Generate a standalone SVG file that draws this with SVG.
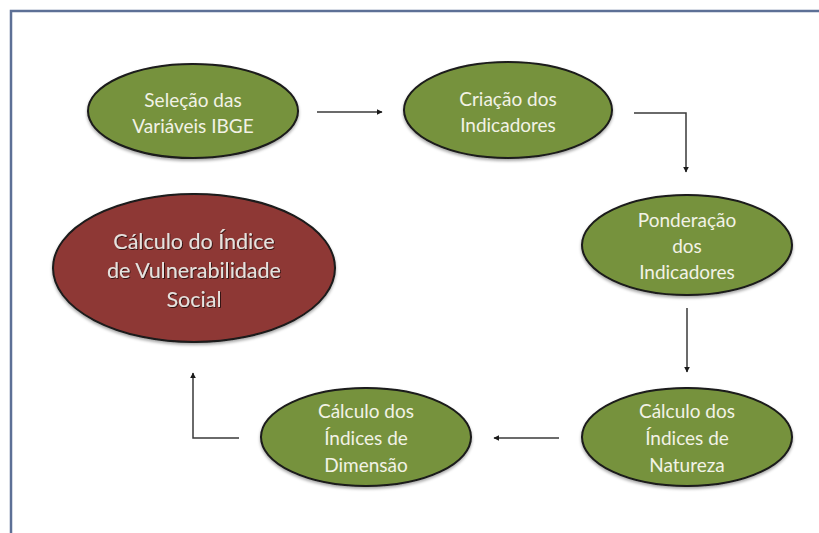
<svg xmlns="http://www.w3.org/2000/svg" width="819" height="533" viewBox="0 0 819 533">
<style>
.g{fill:#76923c;stroke:#1a1a1a;stroke-width:2}
.r{fill:#8e3835;stroke:#1a1a1a;stroke-width:2}
.t{font-family:Lato,"Open Sans","Liberation Sans",sans-serif;font-size:19px;fill:#f2f2e6;text-anchor:middle}
.tr{font-family:Lato,"Open Sans","Liberation Sans",sans-serif;font-size:21.5px;fill:#e6e2de;text-anchor:middle;filter:url(#ts)}
.c{fill:none;stroke:#3a3a3a;stroke-width:1.5}
</style>
<defs>
<marker id="ah" viewBox="0 0 10 10" refX="9" refY="5" markerWidth="6" markerHeight="6" markerUnits="userSpaceOnUse" orient="auto">
<path d="M0,0 L10,5 L0,10 z" fill="#1a1a1a"/>
</marker>
<filter id="sh" x="-10%" y="-10%" width="120%" height="130%">
<feDropShadow dx="0" dy="2" stdDeviation="1.5" flood-color="#000" flood-opacity="0.35"/>
</filter>
<filter id="ts" x="-10%" y="-20%" width="120%" height="150%">
<feDropShadow dx="0.8" dy="0.8" stdDeviation="0.6" flood-color="#000" flood-opacity="0.8"/>
</filter>
</defs>
<rect width="819" height="533" fill="#ffffff"/>
<path d="M11,533 L11,11 L819,11" fill="none" stroke="#5d7096" stroke-width="2.5"/>
<g id="connectors">
<path class="c" d="M317,112 L382,112" marker-end="url(#ah)"/>
<path class="c" d="M634,113 L686,113 L686,172" marker-end="url(#ah)"/>
<path class="c" d="M687,308 L687,372" marker-end="url(#ah)"/>
<path class="c" d="M559,438 L494,438" marker-end="url(#ah)"/>
<path class="c" d="M239,438 L193,438 L193,373" marker-end="url(#ah)"/>
</g>
<g id="n1">
<ellipse class="g" cx="193" cy="111" rx="105" ry="47" filter="url(#sh)"/>
<text class="t" x="193" y="107">Seleção das</text>
<text class="t" x="193" y="133">Variáveis IBGE</text>
</g>
<g id="n2">
<ellipse class="g" cx="508" cy="110" rx="104" ry="48" filter="url(#sh)"/>
<text class="t" x="508" y="106">Criação dos</text>
<text class="t" x="508" y="132">Indicadores</text>
</g>
<g id="n3">
<ellipse class="g" cx="687" cy="245" rx="105" ry="50" filter="url(#sh)"/>
<text class="t" x="687" y="227">Ponderação</text>
<text class="t" x="687" y="253">dos</text>
<text class="t" x="687" y="279">Indicadores</text>
</g>
<g id="n4">
<ellipse class="g" cx="687" cy="437" rx="105" ry="49" filter="url(#sh)"/>
<text class="t" x="687" y="418">Cálculo dos</text>
<text class="t" x="687" y="445">Índices de</text>
<text class="t" x="687" y="472">Natureza</text>
</g>
<g id="n5">
<ellipse class="g" cx="366" cy="437" rx="105" ry="49" filter="url(#sh)"/>
<text class="t" x="366" y="418">Cálculo dos</text>
<text class="t" x="366" y="445">Índices de</text>
<text class="t" x="366" y="472">Dimensão</text>
</g>
<g id="n6">
<ellipse class="r" cx="194" cy="268" rx="141" ry="74" filter="url(#sh)"/>
<text class="tr" x="194" y="249">Cálculo do Índice</text>
<text class="tr" x="194" y="278">de Vulnerabilidade</text>
<text class="tr" x="194" y="307">Social</text>
</g>
</svg>
